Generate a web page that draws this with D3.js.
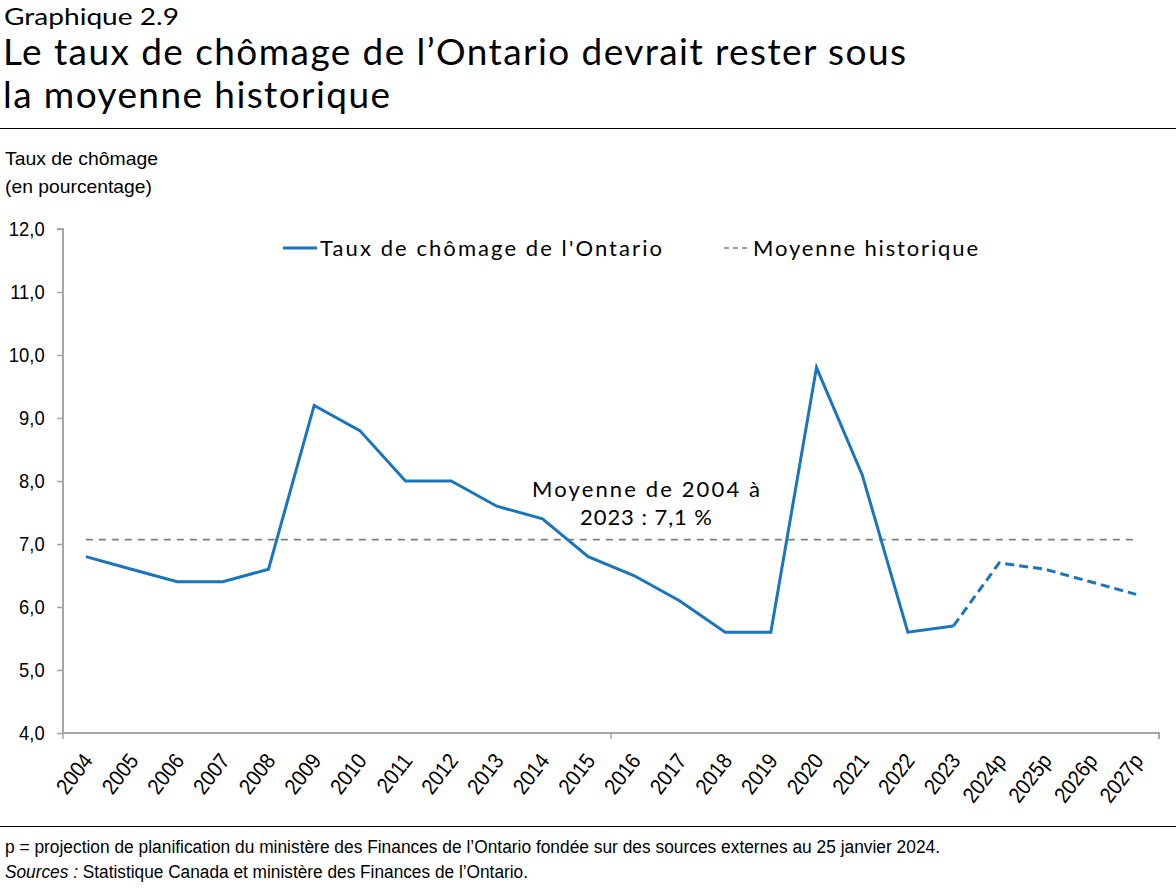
<!DOCTYPE html>
<html><head><meta charset="utf-8">
<script src="https://cdn.jsdelivr.net/npm/d3@7"></script>
<style>
body{margin:0;background:#fff;}
svg{display:block;}
</style></head>
<body>
<svg id="chart" width="1176" height="888"></svg>
<script>
const categories = ["2004","2005","2006","2007","2008","2009","2010","2011","2012","2013","2014","2015","2016","2017","2018","2019","2020","2021","2022","2023","2024p","2025p","2026p","2027p"];
const rates = [6.8,6.6,6.4,6.4,6.6,9.2,8.8,8.0,8.0,7.6,7.4,6.8,6.5,6.1,5.6,5.6,9.8,8.1,5.6,5.7,6.7,6.6,6.4,6.2];
const historicalAverage = 7.07;
const yTicks = [4,5,6,7,8,9,10,11,12];
const lastActualIndex = 19;

(function(){
const svg = d3.select("#chart");
const sans = "'Liberation Sans',Arial,sans-serif";
const geo = "Lato,'Open Sans',sans-serif";
const blue = "#1a75bb";
const axisGray = "#a6a6a6";

function txt(x, y, s, font, size, len, opts = {}) {
  const t = svg.append("text").attr("x", x).attr("y", y)
    .attr("font-family", font).attr("font-size", size).attr("fill", "#000").text(s);
  if (opts.anchor) t.attr("text-anchor", opts.anchor);
  if (opts.weight) t.attr("font-weight", opts.weight);
  if (len) t.attr("textLength", len).attr("lengthAdjust", opts.adjust || "spacing");
  return t;
}

// Header
txt(4, 25, "Graphique 2.9", geo, 23, 175, {adjust:"spacingAndGlyphs"});
txt(3, 65, "Le taux de chômage de l’Ontario devrait rester sous", geo, 37, 903);
txt(3, 108, "la moyenne historique", geo, 37, 387);
svg.append("line").attr("x1",0).attr("x2",1176).attr("y1",128.5).attr("y2",128.5).attr("stroke","#000").attr("stroke-width",1);

// Y axis title
txt(5, 165, "Taux de chômage", sans, 19, 153, {adjust:"spacingAndGlyphs"});
txt(5, 193, "(en pourcentage)", sans, 19, 147, {adjust:"spacingAndGlyphs"});

const pLeft = 63, pRight = 1159, pTop = 229, pBottom = 733;
const x = d3.scaleBand().domain(categories).range([pLeft,pRight]).paddingInner(0).paddingOuter(0);
const y = d3.scaleLinear().domain([4,12]).range([pBottom,pTop]);

// Y axis
const yAxis = svg.append("g").attr("transform",`translate(${pLeft},0)`)
  .call(d3.axisLeft(y).tickValues(yTicks).tickSize(6).tickPadding(14).tickFormat(d=>d3.format(".1f")(d).replace(".",",")));
yAxis.select(".domain").attr("stroke",axisGray).attr("stroke-width",2).attr("d",`M-6,${pTop}H0V${pBottom}`);
yAxis.selectAll(".tick line").attr("stroke",axisGray).attr("stroke-width",1.5);
yAxis.selectAll(".tick text").attr("font-family",sans).attr("font-size",20).attr("fill","#000")
  .attr("transform","scale(0.92,1)");

// X axis
const xAxis = svg.append("g").attr("transform",`translate(0,${pBottom})`)
  .call(d3.axisBottom(x).tickSize(0).tickPadding(0));
xAxis.select(".domain").attr("stroke",axisGray).attr("stroke-width",2).attr("d",`M${pLeft},0H${pRight}V6`);
xAxis.selectAll(".tick text")
  .attr("font-family",sans).attr("font-size",22).attr("fill","#000")
  .attr("text-anchor","end").attr("y",0).attr("dy",0)
  .attr("transform","translate(8,28) rotate(-52) scale(0.9,1)");
[0,12,24].forEach(i=>{
  const xx = pLeft + i*x.bandwidth();
  xAxis.append("line").attr("x1",xx).attr("x2",xx).attr("y1",0).attr("y2",6).attr("stroke",axisGray).attr("stroke-width",1.5);
});

const cx = d => x(d)+x.bandwidth()/2;

// Historical average
svg.append("line")
  .attr("x1",cx(categories[0])).attr("x2",cx(categories[categories.length-1]))
  .attr("y1",y(historicalAverage)).attr("y2",y(historicalAverage))
  .attr("stroke","#7f7f7f").attr("stroke-width",1.75).attr("stroke-dasharray","7,6");

// Data lines
const line = d3.line().x(d=>cx(d.c)).y(d=>y(d.v));
const pts = categories.map((c,i)=>({c,v:rates[i]}));
svg.append("path").datum(pts.slice(0,lastActualIndex+1)).attr("d",line)
  .attr("fill","none").attr("stroke",blue).attr("stroke-width",3).attr("stroke-linejoin","miter");
svg.append("path").datum(pts.slice(lastActualIndex)).attr("d",line)
  .attr("fill","none").attr("stroke",blue).attr("stroke-width",3).attr("stroke-dasharray","9,5");

// Annotation
txt(646, 497, "Moyenne de 2004 à", geo, 22, 228, {anchor:"middle"});
txt(646, 525, "2023 : 7,1 %", geo, 22, 132, {anchor:"middle"});

// Legend
svg.append("line").attr("x1",283).attr("x2",317).attr("y1",248).attr("y2",248).attr("stroke",blue).attr("stroke-width",3);
txt(320, 256, "Taux de chômage de l'Ontario", geo, 22, 342);
svg.append("line").attr("x1",724).attr("x2",748).attr("y1",248).attr("y2",248).attr("stroke","#7f7f7f").attr("stroke-width",1.5).attr("stroke-dasharray","5,4");
txt(753, 256, "Moyenne historique", geo, 22, 225);

// Footer
svg.append("line").attr("x1",0).attr("x2",1176).attr("y1",826.5).attr("y2",826.5).attr("stroke","#000").attr("stroke-width",1);
txt(5, 853, "p = projection de planification du ministère des Finances de l’Ontario fondée sur des sources externes au 25 janvier 2024.", sans, 18, 935, {adjust:"spacingAndGlyphs"});
const src = svg.append("text").attr("x",5).attr("y",878).attr("font-family",sans).attr("font-size",18)
  .attr("textLength",523).attr("lengthAdjust","spacingAndGlyphs");
src.append("tspan").attr("font-style","italic").text("Sources :");
src.append("tspan").text(" Statistique Canada et ministère des Finances de l’Ontario.");
})();
</script>
</body></html>
